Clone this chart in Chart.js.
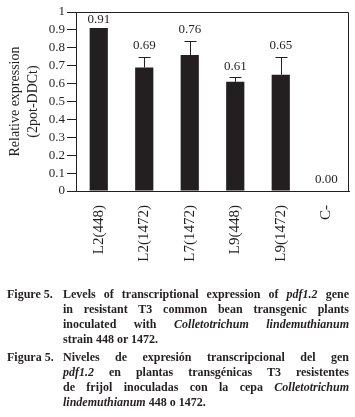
<!DOCTYPE html>
<html>
<head>
<meta charset="utf-8">
<script src="https://cdn.jsdelivr.net/npm/chart.js@4/dist/chart.umd.min.js"></script>
<style>
  html, body { margin: 0; padding: 0; background: #fff; }
  #wrap { position: relative; width: 355px; height: 417px; overflow: hidden; }
  canvas { position: absolute; left: 0; top: 0; }
  .cap { position: absolute; left: 0; top: 0; width: 355px; height: 417px;
         font-family: "Liberation Serif", "DejaVu Serif", serif; font-weight: bold;
         font-size: 12px; line-height: 15px; color: #231f20; }
  .ln { position: absolute; left: 0; width: 355px; height: 15px; white-space: nowrap; }
  .ln .t { position: absolute; left: 63px; width: 286px; text-align: justify; text-align-last: justify; }
  .ln .l { position: absolute; left: 7px; }
  .ln .t.last { text-align-last: left; }
</style>
</head>
<body>
<div id="wrap">
  <canvas id="c" width="355" height="275"></canvas>
  <div class="cap">
    <div class="ln" style="top:286.5px"><span class="l">Figure 5.</span><span class="t">Levels of transcriptional expression of <i>pdf1.2</i> gene</span></div>
    <div class="ln" style="top:301.5px"><span class="t">in resistant T3 common bean transgenic plants</span></div>
    <div class="ln" style="top:316.5px"><span class="t">inoculated with <i>Colletotrichum lindemuthianum</i></span></div>
    <div class="ln" style="top:332px"><span class="t last">strain 448 or 1472.</span></div>
    <div class="ln" style="top:350px"><span class="l">Figura 5.</span><span class="t">Niveles de expresión transcripcional del gen</span></div>
    <div class="ln" style="top:365px"><span class="t"><i>pdf1.2</i> en plantas transgénicas T3 resistentes</span></div>
    <div class="ln" style="top:380px"><span class="t">de frijol inoculadas con la cepa <i>Colletotrichum</i></span></div>
    <div class="ln" style="top:395px"><span class="t last"><i>lindemuthianum</i> 448 o 1472.</span></div>
  </div>
</div>
<script>
const categories = ['L2(448)', 'L2(1472)', 'L7(1472)', 'L9(448)', 'L9(1472)', 'C-'];
const values = [0.91, 0.69, 0.76, 0.61, 0.65, 0.00];
const errorsUpper = [0.005, 0.06, 0.08, 0.025, 0.10, 0];
const valueLabels = ['0.91', '0.69', '0.76', '0.61', '0.65', '0.00'];
const yTickLabels = ['0', '0.1', '0.2', '0.3', '0.4', '0.5', '0.6', '0.7', '0.8', '0.9', '1'];
const yTitle = ['Relative expression', '(2pot-DDCt)'];

const INK = '#231f20';
const FONT = '"Liberation Serif", "DejaVu Serif", serif';

const extras = {
  id: 'extras',
  afterDatasetsDraw(chart) {
    const ctx = chart.ctx;
    const ys = chart.scales.y;
    const meta = chart.getDatasetMeta(0);
    const area = chart.chartArea;
    ctx.save();
    ctx.strokeStyle = INK;
    ctx.fillStyle = INK;
    ctx.lineWidth = 1;
    // frame top + right
    ctx.beginPath();
    ctx.moveTo(area.left, Math.round(area.top) + 0.5);
    ctx.lineTo(Math.round(area.right) - 0.5, Math.round(area.top) + 0.5);
    ctx.lineTo(Math.round(area.right) - 0.5, area.bottom);
    ctx.stroke();
    ctx.font = '13px ' + FONT;
    ctx.textAlign = 'center';
    ctx.textBaseline = 'middle';
    values.forEach((v, i) => {
      const x = meta.data[i].x;
      const yTop = ys.getPixelForValue(v);
      const yErr = ys.getPixelForValue(v + errorsUpper[i]);
      if (errorsUpper[i] > 0.01) {
        const xx = Math.round(x) + 0.5;
        const ye = Math.round(yErr) + 0.5;
        ctx.beginPath();
        ctx.moveTo(xx, yTop);
        ctx.lineTo(xx, ye);
        ctx.moveTo(xx - 6, ye);
        ctx.lineTo(xx + 6, ye);
        ctx.stroke();
      }
      ctx.fillText(valueLabels[i], x, Math.max(yErr - 11, area.top + 8));
    });
    ctx.restore();
  }
};

new Chart(document.getElementById('c'), {
  type: 'bar',
  data: {
    labels: categories,
    datasets: [{
      data: values,
      backgroundColor: INK,
      borderWidth: 0,
      barPercentage: 0.4,
      categoryPercentage: 1.0
    }]
  },
  options: {
    responsive: false,
    animation: false,
    devicePixelRatio: 1,
    layout: { padding: { top: 12, right: 6, left: 0, bottom: 0 } },
    plugins: { legend: { display: false }, tooltip: { enabled: false } },
    scales: {
      x: {
        grid: { display: false },
        border: { display: true, color: INK, width: 1 },
        ticks: {
          color: INK, font: { family: FONT, size: 15 },
          minRotation: 90, maxRotation: 90, padding: 6, autoSkip: false
        },
        afterFit(s) { s.height = 84; }
      },
      y: {
        min: 0, max: 1,
        grid: { drawOnChartArea: false, drawTicks: true, tickLength: 9, color: INK },
        border: { display: true, color: INK, width: 1 },
        ticks: {
          stepSize: 0.1, color: INK, font: { family: FONT, size: 13 }, padding: 2,
          autoSkip: false,
          callback: (v, i) => yTickLabels[i]
        },
        title: {
          display: true, text: yTitle, color: INK,
          font: { family: FONT, size: 14, lineHeight: 1.286 },
          padding: { top: 6, bottom: 0 }
        },
        afterFit(s) { s.width = 76; }
      }
    }
  },
  plugins: [extras]
});
</script>
</body>
</html>
